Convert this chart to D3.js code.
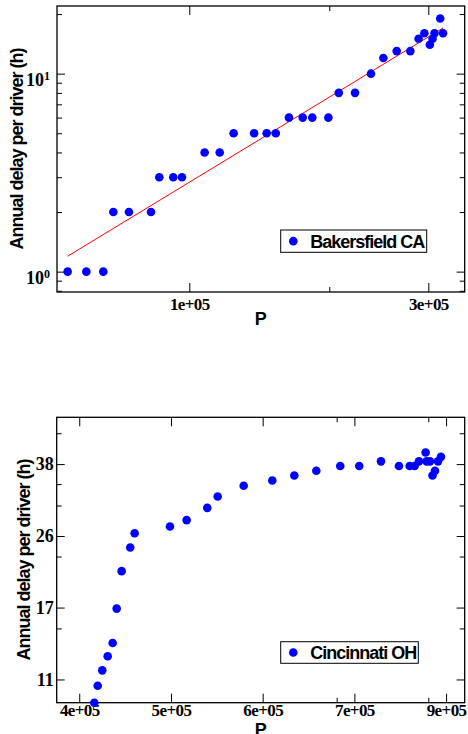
<!DOCTYPE html>
<html><head><meta charset="utf-8">
<script src="https://cdn.jsdelivr.net/npm/d3@7"></script>
<style>body{margin:0;background:#fff}</style>
</head><body><svg id="c" width="468" height="734"></svg>
<script>
// ---- Bakersfield CA ----
const bakP = [57170, 62300, 67350, 70530, 75770, 83860, 87130, 92900, 96700, 107300, 115000, 122600,
  134700, 142700, 148800, 158100, 168400, 176000, 189500, 198800, 214200, 230500, 244000, 259400,
  276200, 286900, 294600, 302100, 305900, 308700, 316900, 321000];
const bakDelay = [1, 1, 1, 2, 2, 2, 3, 3, 3, 4, 4, 5,
  5, 5, 5, 6, 6, 6, 6, 8, 8, 10, 12, 13,
  13, 15, 16, 14, 15, 16, 19, 16];
const bakFitP = [57170, 321000];
const bakFitDelay = [1.196, 17.01];
const bakXTicks = [1e5, 3e5];
const bakXTickLabels = ["1e+05", "3e+05"];
const bakXMinor = [190300];
const bakYTicks = [1, 10];
const bakYTickExp = ["0", "1"];
const bakYMinor = [0.8, 0.9, 2, 3, 4, 5, 6, 7, 8, 9, 20];
const bakLegend = "Bakersfield CA";

// ---- Cincinnati OH ----
const cinP = [416400, 420100, 425100, 431000, 436400, 440800, 446200, 455600, 460400, 498900, 517100,
  539600, 550900, 579300, 610500, 634500, 658500, 684600, 705300, 729000, 748600, 760300, 765700,
  770400, 777700, 778800, 782400, 785200, 787900, 791200, 794400];
const cinDelay = [10, 11, 12, 13, 14, 17, 21, 24, 26, 27, 28,
  30, 32, 34, 35, 36, 37, 38, 38, 39, 38, 38, 38,
  39, 41, 39, 39, 36, 37, 39, 40];
const cinXTicks = [4e5, 5e5, 6e5, 7e5, 8e5];
const cinXTickLabels = ["4e+05", "5e+05", "6e+05", "7e+05", "9e+05"];
const cinXMinor = [680700, 780600];
const cinYTicks = [11.4, 17.1, 25.6, 38.4];
const cinYTickLabels = ["11", "17", "26", "38"];
const cinYMinor = [15.2, 22.8, 30.4, 34.3, 45.7];
const cinLegend = "Cincinnati OH";

const yTitle = "Annual delay per driver (h)";
const xTitle = "P";

const svg = d3.select("#c");
const serif = "'Liberation Serif','Times New Roman',serif";
const sans = "'Liberation Sans',Arial,sans-serif";

function panel(o) {
  const g = svg.append("g");
  const {x, y, box} = o;
  // axes
  const styleAxis = (sel) => {
    sel.select(".domain").remove();
    sel.selectAll(".tick line").attr("stroke", "#000").attr("stroke-width", 1);
  };
  // bottom major
  const xb = g.append("g").attr("transform", `translate(0,${box.y1})`)
    .call(d3.axisBottom(x).tickValues(o.xTicks).tickSize(-9).tickPadding(o.xPad)
      .tickFormat((d, i) => o.xLabels[i]));
  styleAxis(xb);
  xb.selectAll("text").attr("font-family", serif).attr("font-weight", "bold")
    .attr("font-size", 17).attr("fill", "#000").attr("letter-spacing", -0.6);
  g.append("g").attr("transform", `translate(0,${box.y1})`)
    .call(d3.axisBottom(x).tickValues(o.xMinor).tickSize(-5).tickFormat("")).call(styleAxis);
  g.append("g").attr("transform", `translate(0,${box.y0})`)
    .call(d3.axisTop(x).tickValues(o.xTicks).tickSize(-9).tickFormat("")).call(styleAxis);
  g.append("g").attr("transform", `translate(0,${box.y0})`)
    .call(d3.axisTop(x).tickValues(o.xMinor).tickSize(-5).tickFormat("")).call(styleAxis);
  // left
  const yl = g.append("g").attr("transform", `translate(${box.x0},0)`)
    .call(d3.axisLeft(y).tickValues(o.yTicks).tickSize(-8).tickPadding(o.yPad)
      .tickFormat((d, i) => o.yLabels ? o.yLabels[i] : "10"));
  styleAxis(yl);
  yl.selectAll("text").attr("font-family", serif).attr("font-weight", "bold")
    .attr("font-size", 18).attr("fill", "#000");
  if (o.yExp) {
    yl.selectAll("text").attr("dy", "0.64em").each(function (d, i) {
      d3.select(this).append("tspan").attr("dy", "-0.5em").attr("font-size", 12).text(o.yExp[i]);
    });
  }
  g.append("g").attr("transform", `translate(${box.x0},0)`)
    .call(d3.axisLeft(y).tickValues(o.yMinor).tickSize(-5).tickFormat("")).call(styleAxis);
  g.append("g").attr("transform", `translate(${box.x1},0)`)
    .call(d3.axisRight(y).tickValues(o.yTicks).tickSize(-8).tickFormat("")).call(styleAxis);
  g.append("g").attr("transform", `translate(${box.x1},0)`)
    .call(d3.axisRight(y).tickValues(o.yMinor).tickSize(-5).tickFormat("")).call(styleAxis);
  // frame
  g.append("rect").attr("x", box.x0).attr("y", box.y0)
    .attr("width", box.x1 - box.x0).attr("height", box.y1 - box.y0)
    .attr("fill", "none").attr("stroke", "#000").attr("stroke-width", 1.3);
  // fit line
  if (o.fitX) {
    const pts = o.fitX.map((v, i) => [v, o.fitY[i]]);
    g.append("path").datum(pts)
      .attr("d", d3.line().x(d => x(d[0])).y(d => y(d[1])))
      .attr("stroke", "#ff0000").attr("stroke-width", 1).attr("fill", "none");
  }
  // points
  g.append("g").selectAll("circle").data(o.px.map((v, i) => [v, o.py[i]])).join("circle")
    .attr("cx", d => x(d[0])).attr("cy", d => y(d[1])).attr("r", 4.3).attr("fill", "#0000ff");
  // legend
  const L = o.legend;
  g.append("rect").attr("x", L.x).attr("y", L.y).attr("width", L.w).attr("height", L.h)
    .attr("fill", "#fff").attr("stroke", "#000").attr("stroke-width", 1);
  g.append("circle").attr("cx", L.x + 12.6).attr("cy", L.y + L.h / 2).attr("r", 4.3).attr("fill", "#0000ff");
  g.append("text").attr("x", L.x + 29.5).attr("y", L.y + L.h - 4.2).text(L.text)
    .attr("font-family", sans).attr("font-weight", "bold").attr("font-size", 18)
    .attr("letter-spacing", -1).attr("fill", "#000");
  // titles
  g.append("text").attr("transform", `translate(${o.yTitleX},${(box.y0 + box.y1) / 2}) rotate(-90)`)
    .attr("text-anchor", "middle").text(yTitle)
    .attr("font-family", sans).attr("font-weight", "bold").attr("font-size", 18)
    .attr("letter-spacing", -1).attr("fill", "#000");
  g.append("text").attr("x", (box.x0 + box.x1) / 2).attr("y", o.xTitleY).attr("text-anchor", "middle")
    .text(xTitle).attr("font-family", sans).attr("font-weight", "bold").attr("font-size", 18).attr("fill", "#000");
}

// top panel
const box1 = {x0: 57, x1: 464.7, y0: 6, y1: 292};
panel({
  box: box1,
  x: d3.scaleLog().domain([54440, 354600]).range([box1.x0, box1.x1]),
  y: d3.scaleLog().domain([0.789, 21.97]).range([box1.y1, box1.y0]),
  xTicks: bakXTicks, xLabels: bakXTickLabels, xMinor: bakXMinor, xPad: 6,
  yTicks: bakYTicks, yExp: bakYTickExp, yMinor: bakYMinor, yPad: 7,
  fitX: bakFitP, fitY: bakFitDelay,
  px: bakP, py: bakDelay,
  legend: {x: 280.7, y: 230, w: 146, h: 22.3, text: bakLegend},
  yTitleX: 23, xTitleY: 325
});

// bottom panel
const box2 = {x0: 56.7, x1: 464.7, y0: 417.3, y1: 702.7};
panel({
  box: box2,
  x: d3.scaleLinear().domain([375400, 820300]).range([box2.x0, box2.x1]),
  y: d3.scaleLog().domain([10, 50]).range([box2.y1, box2.y0]),
  xTicks: cinXTicks, xLabels: cinXTickLabels, xMinor: cinXMinor, xPad: 1,
  yTicks: cinYTicks, yLabels: cinYTickLabels, yMinor: cinYMinor, yPad: 3,
  px: cinP, py: cinDelay,
  legend: {x: 280.7, y: 641.7, w: 137.6, h: 21.6, text: cinLegend},
  yTitleX: 30, xTitleY: 736
});
</script>
</body></html>
